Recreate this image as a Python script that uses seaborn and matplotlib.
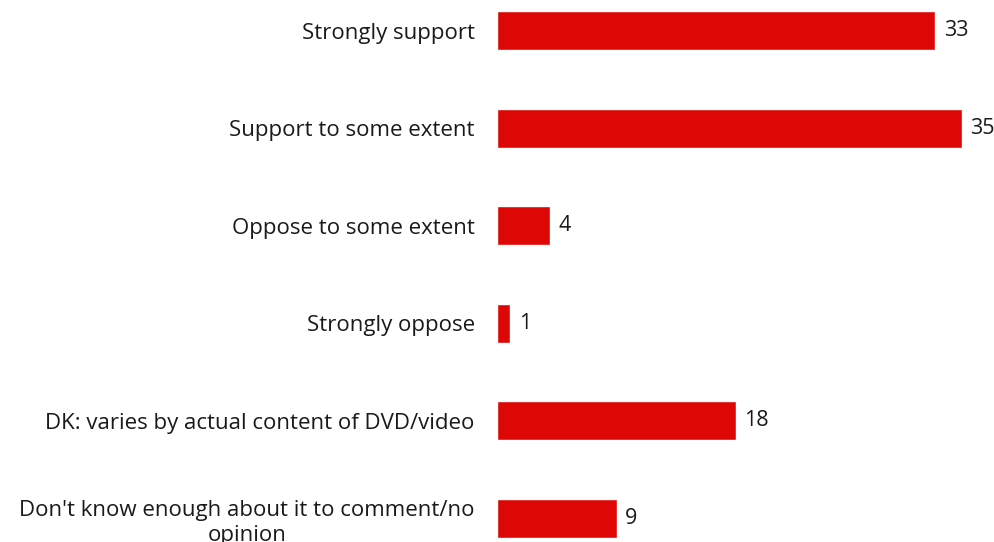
import matplotlib
matplotlib.use('Agg')
import matplotlib.pyplot as plt
import seaborn as sns
import pandas as pd

categories = [
    'Strongly support',
    'Support to some extent',
    'Oppose to some extent',
    'Strongly oppose',
    'DK: varies by actual content of DVD/video',
    "Don't know enough about it to comment/no\nopinion",
]
values = [33, 35, 4, 1, 18, 9]

bar_color = '#dd0806'


def plot_chart(df):
    sns.set_theme(style='white')
    plt.rcParams['font.family'] = ['Open Sans', 'DejaVu Sans']

    fig = plt.figure(figsize=(9.95, 5.42), dpi=100)
    # axes placed so the bars sit where they do in the original
    ax = fig.add_axes([497 / 995, 0, 498 / 995, 1])

    sns.barplot(data=df, y='category', x='value', orient='h',
                color=bar_color, width=0.4, saturation=1, ax=ax)

    ax.set_xlim(0, 37.5)
    ax.set_ylim(5.246, -0.313)

    ax.bar_label(ax.containers[0], padding=6, fontsize=15.5, color='#1a1a1a')

    ax.set_xlabel('')
    ax.set_ylabel('')
    ax.set_xticks([])
    ax.tick_params(axis='y', length=0, pad=16, labelsize=16, labelcolor='#1a1a1a')
    for lbl in ax.get_yticklabels():
        lbl.set_multialignment('center')
        lbl.set_linespacing(1.3)
    sns.despine(ax=ax, left=True, bottom=True)

    fig.savefig('out.png', dpi=100)
    plt.close(fig)


def main():
    df = pd.DataFrame({'category': categories, 'value': values})
    plot_chart(df)


if __name__ == "__main__":
    main()
